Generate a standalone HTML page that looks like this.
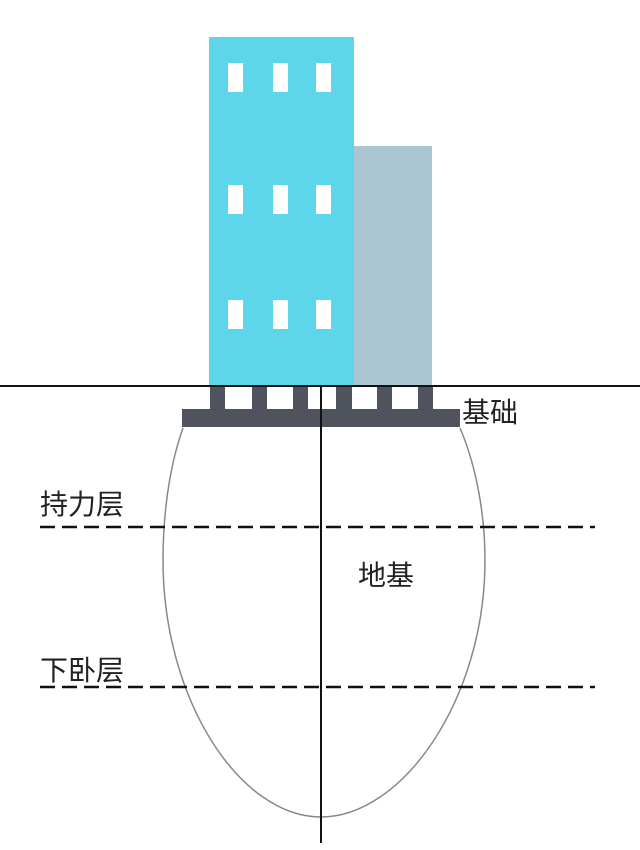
<!DOCTYPE html>
<html><head><meta charset="utf-8"><style>
html,body{margin:0;padding:0;background:#fff;}
svg{display:block}
text{font-family:"Liberation Sans","Noto Sans CJK SC",sans-serif;font-size:28px;fill:#222}
</style></head><body>
<svg width="640" height="850" viewBox="0 0 640 850" xmlns="http://www.w3.org/2000/svg">
<rect x="353" y="146" width="79" height="240" fill="#abc6d3"/>
<rect x="209" y="37" width="145" height="349" fill="#5ed6ea"/>
<g fill="#fff">
<rect x="228" y="63" width="15" height="29"/><rect x="273" y="63" width="15" height="29"/><rect x="316" y="63" width="15" height="29"/>
<rect x="228" y="185" width="15" height="29"/><rect x="273" y="185" width="15" height="29"/><rect x="316" y="185" width="15" height="29"/>
<rect x="228" y="300" width="15" height="29"/><rect x="273" y="300" width="15" height="29"/><rect x="316" y="300" width="15" height="29"/>
</g>
<g fill="#4f535e">
<rect x="182" y="409" width="278" height="18"/>
<rect x="210" y="386" width="15" height="24"/><rect x="252" y="386" width="15" height="24"/><rect x="293" y="386" width="15" height="24"/>
<rect x="336" y="386" width="16" height="24"/><rect x="377" y="386" width="15" height="24"/><rect x="418" y="386" width="15" height="24"/>
</g>
<line x1="0" y1="386" x2="640" y2="386" stroke="#111" stroke-width="2"/>
<path d="M183,428 C168,470 163,520 163,560 C163,700 240,817 321,817 C402,817 485,700 485,560 C485,520 478,470 460,428" fill="none" stroke="#888" stroke-width="1.5"/>
<line x1="321" y1="386" x2="321" y2="843" stroke="#111" stroke-width="2"/>
<line x1="40" y1="527" x2="595" y2="527" stroke="#111" stroke-width="2.5" stroke-dasharray="15 7"/>
<line x1="40" y1="687" x2="595" y2="687" stroke="#111" stroke-width="2.5" stroke-dasharray="15 7"/>
<text x="40" y="514">持力层</text>
<text x="40" y="680">下卧层</text>
<text x="358" y="585">地基</text>
<text x="462" y="422">基础</text>
</svg>
</body></html>
